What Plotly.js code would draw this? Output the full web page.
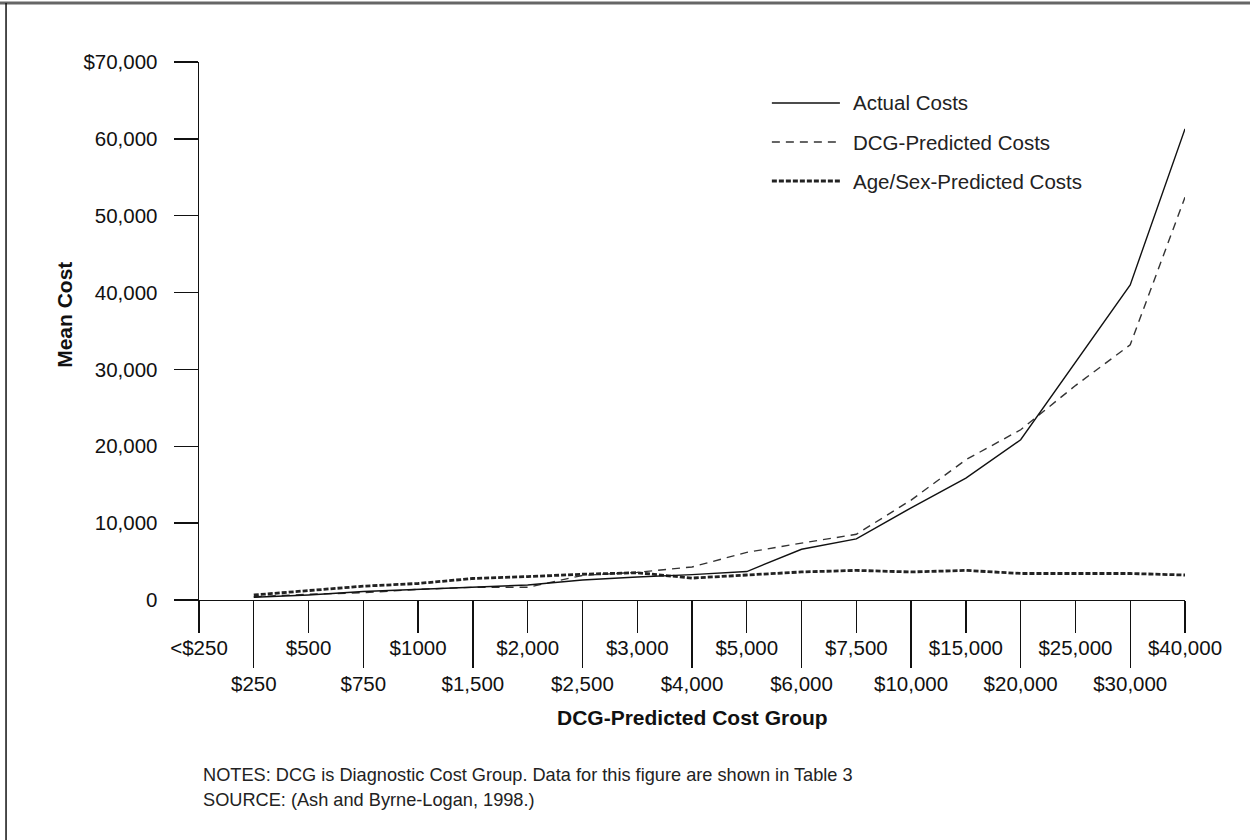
<!DOCTYPE html>
<html>
<head>
<meta charset="utf-8">
<script src="https://cdn.plot.ly/plotly-3.0.1.min.js"></script>
<style>
html,body{margin:0;padding:0;background:#fff;}
#chart{width:1250px;height:840px;}
</style>
</head>
<body>
<div id="chart"></div>
<script>
// Category labels (x axis), in order
const categories = ['<$250','$250','$500','$750','$1000','$1,500','$2,000','$2,500','$3,000','$4,000','$5,000','$6,000','$7,500','$10,000','$15,000','$20,000','$25,000','$30,000','$40,000'];
// Groups that have data points
const dataGroups = ['$250','$500','$750','$1000','$1,500','$2,000','$2,500','$3,000','$4,000','$5,000','$6,000','$7,500','$10,000','$15,000','$20,000','$25,000','$30,000','$40,000'];
// Series values (mean cost, dollars)
const actualCosts  = [350, 650, 1100, 1400, 1650, 1950, 2600, 3000, 3300, 3700, 6600, 7950, 12000, 15850, 20850, 31000, 41000, 61300];
const dcgPredicted = [430, 740, 950, 1390, 1650, 1650, 3200, 3600, 4300, 6200, 7400, 8550, 13000, 18250, 22150, 27900, 33200, 52400];
const ageSexPredicted = [650, 1250, 1800, 2150, 2800, 3050, 3350, 3550, 2850, 3250, 3650, 3850, 3650, 3850, 3450, 3450, 3450, 3250];
// Tick labels
const topRowTicks = ['<$250','$500','$1000','$2,000','$3,000','$5,000','$7,500','$15,000','$25,000','$40,000'];
const bottomRowTicks = ['$250','$750','$1,500','$2,500','$4,000','$6,000','$10,000','$20,000','$30,000'];
const yTickVals = [0, 10000, 20000, 30000, 40000, 50000, 60000, 70000];
const yTickText = ['0','10,000','20,000','30,000','40,000','50,000','60,000','$70,000'];
const seriesNames = ['Actual Costs','DCG-Predicted Costs','Age/Sex-Predicted Costs'];

const FONT = 'Liberation Sans, Arial, Helvetica, sans-serif';

const styles = [
  {color:'#111', width:1.4, dash:'solid'},
  {color:'#333', width:1.4, dash:'8px,6px'},
  {color:'#222', width:2.8, dash:'5px,2px'}
];

const traces = [
  {x: dataGroups, y: actualCosts, name: seriesNames[0], xaxis:'x2', yaxis:'y'},
  {x: dataGroups, y: dcgPredicted, name: seriesNames[1], xaxis:'x', yaxis:'y'},
  {x: dataGroups, y: ageSexPredicted, name: seriesNames[2], xaxis:'x', yaxis:'y'}
].map((t,i)=>Object.assign(t,{type:'scatter', mode:'lines', line:styles[i], showlegend:false, hoverinfo:'x+y+name'}));

// custom legend (line samples + labels) in paper coordinates
const legendRowsY = [0.9238, 0.8513, 0.7788];
const shapes = [];
const annotations = [];
seriesNames.forEach((n,i)=>{
  shapes.push({type:'line', xref:'paper', yref:'paper', x0:0.581, x1:0.650, y0:legendRowsY[i], y1:legendRowsY[i],
    line:{color:styles[i].color, width:styles[i].width, dash:styles[i].dash}});
  annotations.push({xref:'paper', yref:'paper', x:0.6613, y:legendRowsY[i], xanchor:'left', yanchor:'middle',
    text:n, showarrow:false, font:{family:FONT, size:20.5, color:'#222'}});
});
// page frame: top and left borders
shapes.push({type:'line', xref:'paper', yref:'paper', x0:-0.21, x1:1.07, y0:1.1097, y1:1.1097, line:{color:'#666', width:3}});
shapes.push({type:'line', xref:'paper', yref:'paper', x0:-0.1957, x1:-0.1957, y0:1.1097, y1:-0.45, line:{color:'#111', width:1.5}});

// y axis title
annotations.push({xref:'paper', yref:'paper', x:-0.1359, y:0.530, xanchor:'center', yanchor:'middle', textangle:-90,
  text:'<b>Mean Cost</b>', showarrow:false, font:{family:FONT, size:21, color:'#111'}});
// x axis title
annotations.push({xref:'paper', yref:'paper', x:0.5, y:-0.2175, xanchor:'center', yanchor:'middle',
  text:'<b>DCG-Predicted Cost Group</b>', showarrow:false, font:{family:FONT, size:21, color:'#111'}});
// notes
annotations.push({xref:'paper', yref:'paper', x:0.0020, y:-0.3262, xanchor:'left', yanchor:'middle',
  text:'NOTES: DCG is Diagnostic Cost Group. Data for this figure are shown in Table 3', showarrow:false, font:{family:FONT, size:18.2, color:'#222'}});
annotations.push({xref:'paper', yref:'paper', x:0.0020, y:-0.3717, xanchor:'left', yanchor:'middle',
  text:'SOURCE: (Ash and Byrne-Logan, 1998.)', showarrow:false, font:{family:FONT, size:18.2, color:'#222'}});

const commonX = {
  type:'category', categoryorder:'array', categoryarray:categories, range:[0, categories.length-1],
  showgrid:false, zeroline:false, fixedrange:true, tickmode:'array', ticks:'outside', tickcolor:'#111', tickwidth:1.4,
  tickfont:{family:FONT, size:20.5, color:'#111'}
};

const layout = {
  width:1250, height:840,
  margin:{l:199, r:65, t:62, b:240},
  paper_bgcolor:'#fff', plot_bgcolor:'#fff',
  showlegend:false,
  xaxis: Object.assign({}, commonX, {
    tickvals: topRowTicks, ticktext: topRowTicks, ticklen:32, ticklabelstandoff:-3,
    showline:true, linecolor:'#111', linewidth:1.4, anchor:'y'
  }),
  xaxis2: Object.assign({}, commonX, {
    tickvals: bottomRowTicks, ticktext: bottomRowTicks, ticklen:67, ticklabelstandoff:-2,
    showline:false, overlaying:'x', anchor:'y', side:'bottom'
  }),
  yaxis: {
    range:[0,70000], tickmode:'array', tickvals:yTickVals, ticktext:yTickText,
    ticks:'outside', ticklen:24, tickcolor:'#111', tickwidth:1.4, ticklabelstandoff:12,
    showline:true, linecolor:'#111', linewidth:1.4, showgrid:false, zeroline:false, fixedrange:true,
    tickfont:{family:FONT, size:20.5, color:'#111'}
  },
  shapes: shapes,
  annotations: annotations
};

Plotly.newPlot('chart', traces, layout, {displayModeBar:false, staticPlot:true});
</script>
</body>
</html>
